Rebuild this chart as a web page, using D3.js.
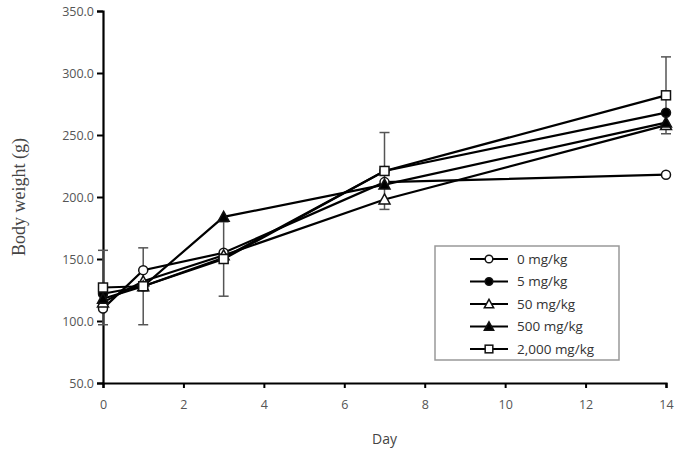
<!DOCTYPE html>
<html>
<head>
<meta charset="utf-8">
<script src="https://cdn.jsdelivr.net/npm/d3@7"></script>
<style>
  body { margin: 0; background: white; }
  svg text { font-family: "Open Sans", "Noto Sans", sans-serif; }
</style>
</head>
<body>
<div id="chart"></div>
<script>
// days of measurement
const days = [0, 1, 3, 7, 14];
const seriesNames = ["0 mg/kg", "5 mg/kg", "50 mg/kg", "500 mg/kg", "2,000 mg/kg"];
const symbols = ["circleOpen", "circleFilled", "triangleOpen", "triangleFilled", "squareOpen"];

// mean body weight (g) per group
const w0 = [110, 141, 155, 212, 218];
const w5 = [122, 128, 151, 221, 268];
const w50 = [115, 132, 153, 198, 258];
const w500 = [118, 128, 184, 210, 260];
const w2000 = [127, 128, 150, 221, 282];
const allWeights = [w0, w5, w50, w500, w2000];

// standard deviation, only the 2,000 mg/kg group shows bars
const sd2000 = [30, 31, 30, 31, 31];

const yTicks = [50, 100, 150, 200, 250, 300, 350];
const xTicks = [0, 2, 4, 6, 8, 10, 12, 14];

var dimensions = {
    width: 677,
    height: 450,
    margin: { top: 11, bottom: 67, right: 11, left: 103 }
};

var svg = d3.select("#chart").append("svg")
    .attr("width", dimensions.width)
    .attr("height", dimensions.height);

let x = d3.scaleLinear().domain([0, 14])
    .range([dimensions.margin.left, dimensions.width - dimensions.margin.right]);
let y = d3.scaleLinear().domain([50, 350])
    .range([dimensions.height - dimensions.margin.bottom, dimensions.margin.top]);

// axes
let yAxis = svg.append("g")
    .attr("transform", `translate(${x(0)},0)`)
    .call(d3.axisLeft(y).tickValues(yTicks).tickFormat(d3.format(".1f")).tickSize(6).tickPadding(3));
let xAxis = svg.append("g")
    .attr("transform", `translate(0,${y(50)})`)
    .call(d3.axisBottom(x).tickValues(xTicks).tickSize(5).tickPadding(12));

[xAxis, yAxis].forEach(a => {
    a.select(".domain").attr("stroke", "#000").attr("stroke-width", 2.2);
    a.selectAll(".tick line").attr("stroke", "#000").attr("stroke-width", 2);
    a.selectAll(".tick text").attr("fill", "#555").style("font-size", "12.5px");
});

svg.append("text")
    .attr("x", (x(0) + x(14)) / 2)
    .attr("y", 444)
    .attr("text-anchor", "middle")
    .attr("fill", "#444")
    .style("font-size", "14px")
    .text("Day");

svg.append("text")
    .attr("transform", `translate(25,${y(200)}) rotate(-90)`)
    .attr("text-anchor", "middle")
    .attr("fill", "#444")
    .style("font-family", "'Liberation Serif', 'DejaVu Serif', serif")
    .style("font-size", "18px")
    .text("Body weight (g)");

// error bars
const capW = 5;
days.forEach((d, i) => {
    const cx = x(d);
    const lo = y(w2000[i] - sd2000[i]);
    const hi = y(w2000[i] + sd2000[i]);
    const g = svg.append("g").attr("stroke", "#555").attr("stroke-width", 1.5);
    g.append("line").attr("x1", cx).attr("x2", cx).attr("y1", lo).attr("y2", hi);
    g.append("line").attr("x1", cx - capW).attr("x2", cx + capW).attr("y1", lo).attr("y2", lo);
    g.append("line").attr("x1", cx - capW).attr("x2", cx + capW).attr("y1", hi).attr("y2", hi);
});

function drawMarker(g, kind, cx, cy, s) {
    if (kind === "circleOpen" || kind === "circleFilled") {
        g.append("circle").attr("cx", cx).attr("cy", cy).attr("r", 4.5 * s)
            .attr("fill", kind === "circleFilled" ? "#000" : "white")
            .attr("stroke", "#111").attr("stroke-width", 1.5);
    } else if (kind === "triangleOpen" || kind === "triangleFilled") {
        g.append("path")
            .attr("d", `M${cx},${cy - 5.5 * s} L${cx + 5.5 * s},${cy + 4.5 * s} L${cx - 5.5 * s},${cy + 4.5 * s} Z`)
            .attr("fill", kind === "triangleFilled" ? "#000" : "white")
            .attr("stroke", "#111").attr("stroke-width", 1.5);
    } else {
        g.append("rect").attr("x", cx - 4.5 * s).attr("y", cy - 4.5 * s)
            .attr("width", 9 * s).attr("height", 9 * s)
            .attr("fill", "white").attr("stroke", "#111").attr("stroke-width", 1.5);
    }
}

let line = d3.line().x((v, i) => x(days[i])).y(v => y(v));

allWeights.forEach((vals, s) => {
    svg.append("path")
        .datum(vals)
        .attr("d", line)
        .attr("fill", "none")
        .attr("stroke", "#000")
        .attr("stroke-width", 2.2);
});
allWeights.forEach((vals, s) => {
    const g = svg.append("g");
    vals.forEach((v, i) => drawMarker(g, symbols[s], x(days[i]), y(v), 1));
});

// legend
const legend = svg.append("g");
legend.append("rect")
    .attr("x", 435).attr("y", 246).attr("width", 184).attr("height", 114)
    .attr("fill", "white").attr("stroke", "#999").attr("stroke-width", 1.5);
seriesNames.forEach((name, i) => {
    const ly = 259 + i * 22.5;
    legend.append("line").attr("x1", 470).attr("x2", 508).attr("y1", ly).attr("y2", ly)
        .attr("stroke", "#000").attr("stroke-width", 2);
    drawMarker(legend, symbols[i], 489, ly, 0.85);
    legend.append("text").attr("x", 517).attr("y", ly).attr("dy", "0.35em")
        .attr("fill", "#333").style("font-size", "13.5px").text(name);
});
</script>
</body>
</html>
